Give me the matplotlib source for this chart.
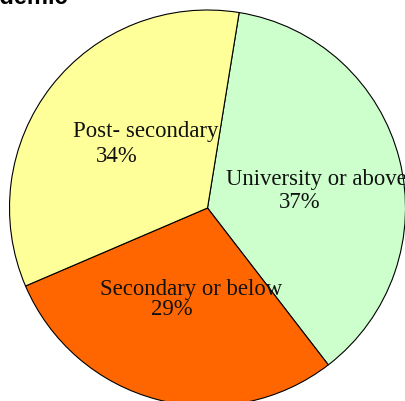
import matplotlib
matplotlib.use("Agg")
import matplotlib.pyplot as plt

# share of people by highest academic level
levels = ["University or above", "Secondary or below", "Post- secondary"]
shares = [37, 29, 34]
colors = ["#CCFFCC", "#FF6600", "#FFFF99"]

# text placement (axes data units, pie radius = 1)
name_pos = [(0.548, 0.116), (-0.083, -0.439), (-0.311, 0.359)]
pct_pos = [(0.467, 0.0), (-0.179, -0.540), (-0.457, 0.232)]

fig = plt.figure(figsize=(4.06, 4.01), dpi=100)
ax = fig.add_axes([0.0234, -0.01247, 0.9754, 0.98753])

ax.pie(shares, colors=colors, startangle=80.8, counterclock=False,
       radius=1.0, wedgeprops=dict(edgecolor="black", linewidth=0.8))
ax.set_xlim(-1, 1)
ax.set_ylim(-1, 1)
ax.set_aspect("equal")
ax.axis("off")

for name, val, npos, ppos in zip(levels, shares, name_pos, pct_pos):
    ax.text(npos[0], npos[1], name, ha="center", va="baseline",
            family="Liberation Serif", fontsize=16.4, color="#111111")
    ax.text(ppos[0], ppos[1], f"{val}%", ha="center", va="baseline",
            family="Liberation Serif", fontsize=16.4, color="#111111")

fig.text(68 / 406, 1 - 4 / 401, "Academic", ha="right", va="baseline",
         family="Liberation Sans", fontweight="bold", fontsize=17)

fig.savefig("out.png", dpi=100)
